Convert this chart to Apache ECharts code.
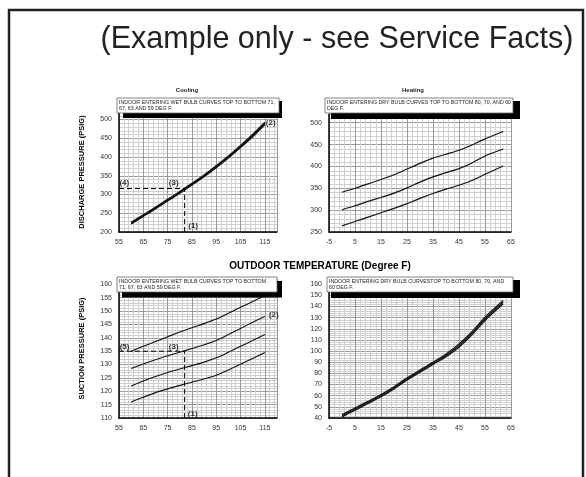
<!DOCTYPE html>
<html>
<head>
<meta charset="utf-8">
<title>Pressure curves</title>
<script src="https://cdn.jsdelivr.net/npm/echarts@6/dist/echarts.min.js"></script>
<style>
  html, body { margin: 0; background: #fff; }
  #chart { width: 586px; height: 477px; }
</style>
</head>
<body>
<div id="chart"></div>
<script>
  // outdoor temperatures (deg F)
  var coolX = [60, 65, 70, 75, 80, 85, 90, 95, 100, 105, 110, 115]
  var heatX = [0, 5, 10, 15, 20, 25, 30, 35, 40, 45, 50, 55, 62]

  // cooling discharge pressure, wet bulb 71 / 67 / 63 / 59
  var dis71 = [226, 246, 266, 287, 308, 330, 352, 377, 403, 431, 461, 493]
  var dis67 = [224.5, 244.5, 264.5, 285.5, 306.5, 328, 350, 375, 401, 429, 458.5, 490.5]
  var dis63 = [223, 243, 263, 284, 305, 326.5, 348.5, 373, 399, 427, 456.5, 488.5]
  var dis59 = [221.5, 241.5, 261.5, 282.5, 303.5, 325, 347, 371, 397, 425, 454, 486]

  // heating discharge pressure, dry bulb 80 / 70 / 60
  var hdis80 = [341, 350, 360, 370, 381, 394, 407, 419, 428, 437, 449, 463, 480]
  var hdis70 = [301, 310, 320, 329, 339, 351, 364, 376, 386, 395, 408, 424, 440]
  var hdis60 = [264, 274, 284, 294, 304, 315, 327, 338, 348, 357, 368, 382, 401]

  // cooling suction pressure, wet bulb 71 / 67 / 63 / 59
  var suc71 = [135, 136.8, 138.6, 140.4, 142.2, 143.8, 145.3, 147, 149.2, 151.4, 153.6, 155.8]
  var suc67 = [128.5, 130.2, 131.8, 133.3, 134.6, 136, 137.4, 139, 141.2, 143.5, 145.8, 148]
  var suc63 = [122, 123.8, 125.5, 127, 128.3, 129.6, 130.9, 132.5, 134.6, 136.8, 139, 141.2]
  var suc59 = [116, 117.8, 119.5, 120.9, 122.2, 123.4, 124.6, 126, 128, 130.1, 132.3, 134.5]

  // heating suction pressure, dry bulb 80 / 70 / 60
  var hsuc80 = [43, 49, 55, 61, 68, 76, 83, 90, 97.5, 106.5, 117.5, 130.5, 145.5]
  var hsuc70 = [42, 48, 54, 60, 67, 75, 82, 89, 96, 105, 116, 129, 144]
  var hsuc60 = [41, 47, 53, 59, 66, 74, 81, 88, 95, 103.5, 114.5, 127.5, 142.5]

  // tick labels
  var coolTicks = [55, 65, 75, 85, 95, 105, 115]
  var heatTicks = [-5, 5, 15, 25, 35, 45, 55, 65]
  var disTicks = [200, 250, 300, 350, 400, 450, 500]
  var hdisTicks = [250, 300, 350, 400, 450, 500]
  var sucTicks = [110, 115, 120, 125, 130, 135, 140, 145, 150, 155, 160]
  var hsucTicks = [40, 50, 60, 70, 80, 90, 100, 110, 120, 130, 140, 150, 160]

  // example operating points: [outdoor temp, pressure]
  var disPoint = [82, 316]
  var sucPoint = [82, 135]

  // callout labels: [text, temp, pressure]
  var disNotes = [['(4)', 57.2, 330], ['(3)', 77.5, 330], ['(1)', 85.5, 217], ['(2)', 117.4, 490]]
  var sucNotes = [['(5)', 57.3, 136.7], ['(3)', 77.5, 136.7], ['(1)', 85.3, 111.5], ['(2)', 118.7, 148.5]]

  var font = 'Liberation Sans, Arial, Helvetica, sans-serif'
  var chart = echarts.init(document.getElementById('chart'))

  function xAx(gi, min, max, ticks) {
    return {
      type: 'value', gridIndex: gi, min: min, max: max, interval: 10,
      axisLine: { show: true, onZero: false, lineStyle: { color: '#000', width: 1.5 } },
      axisTick: { show: false },
      axisLabel: {
        fontSize: 7, color: '#333', margin: 7, fontFamily: font,
        formatter: function (v) { return ticks.indexOf(v) >= 0 ? String(v) : '' }
      },
      splitLine: { show: true, lineStyle: { color: '#999', width: 1 } },
      minorTick: { show: false, splitNumber: 5 },
      minorSplitLine: { show: true, lineStyle: { color: '#cfcfcf', width: 1 } }
    }
  }

  function yAx(gi, min, max, interval, ticks, name) {
    return {
      type: 'value', gridIndex: gi, min: min, max: max, interval: interval,
      name: name, nameLocation: 'middle', nameRotate: 90, nameGap: 33,
      nameTextStyle: { fontSize: 7.5, fontWeight: 'bold', color: '#000', fontFamily: font },
      axisLine: { show: true, onZero: false, lineStyle: { color: '#000', width: 1.5 } },
      axisTick: { show: false },
      axisLabel: {
        fontSize: 7, color: '#333', margin: 7, fontFamily: font,
        formatter: function (v) { return ticks.indexOf(v) >= 0 ? String(v) : '' }
      },
      splitLine: { show: true, lineStyle: { color: '#999', width: 1 } },
      minorTick: { show: false, splitNumber: 5 },
      minorSplitLine: { show: true, lineStyle: { color: '#cfcfcf', width: 1 } }
    }
  }

  function curve(gi, xs, ys, w) {
    return {
      type: 'line', xAxisIndex: gi, yAxisIndex: gi, symbol: 'none', smooth: 0.25,
      lineStyle: { color: '#111', width: w },
      data: xs.map(function (x, i) { return [x, ys[i]] }),
      silent: true, animation: false
    }
  }

  function dashed(gi, pts) {
    return {
      type: 'line', xAxisIndex: gi, yAxisIndex: gi, symbol: 'none',
      lineStyle: { color: '#000', width: 1, type: [5, 3] },
      data: pts, silent: true, animation: false
    }
  }

  function notes(gi, list) {
    return {
      type: 'scatter', xAxisIndex: gi, yAxisIndex: gi, symbolSize: 0,
      label: {
        show: true, position: 'inside', formatter: '{b}',
        fontSize: 8, fontWeight: 'bold', color: '#000', fontFamily: font
      },
      data: list.map(function (n) { return { name: n[0], value: [n[1], n[2]] } }),
      silent: true, animation: false
    }
  }

  function box(x, y, w, h, sx, sy, sw, sh, lines) {
    return [
      { type: 'rect', z: 20, shape: { x: sx, y: sy, width: sw, height: sh }, style: { fill: '#000' } },
      { type: 'rect', z: 21, shape: { x: x, y: y, width: w, height: h }, style: { fill: '#fff', stroke: '#666', lineWidth: 0.8 } },
      { type: 'text', z: 22, x: x + 2, y: y + 2, style: { text: lines, fill: '#222', fontSize: 5.3, lineHeight: 5.8, fontFamily: font } }
    ]
  }

  var graphics = [
    { type: 'rect', z: 30, shape: { x: 9, y: 10, width: 574, height: 500 }, style: { fill: 'none', stroke: '#222', lineWidth: 2.5 } },
    { type: 'text', z: 30, x: 337, y: 40, style: { text: '(Example only - see Service Facts)', fontSize: 30.5, fill: '#222', fontFamily: font, textAlign: 'center', textVerticalAlign: 'middle' } },
    { type: 'text', z: 30, x: 187, y: 90, style: { text: 'Cooling', fontSize: 6, fontWeight: 'bold', fill: '#222', fontFamily: font, textAlign: 'center', textVerticalAlign: 'middle' } },
    { type: 'text', z: 30, x: 413, y: 90, style: { text: 'Heating', fontSize: 6, fontWeight: 'bold', fill: '#222', fontFamily: font, textAlign: 'center', textVerticalAlign: 'middle' } },
    { type: 'text', z: 30, x: 320, y: 266, style: { text: 'OUTDOOR TEMPERATURE (Degree F)', fontSize: 10, fontWeight: 'bold', fill: '#000', fontFamily: font, textAlign: 'center', textVerticalAlign: 'middle' } }
  ]
    .concat(box(117, 98, 162, 15, 123, 101, 159, 17, 'INDOOR ENTERING WET BULB CURVES TOP TO BOTTOM 71,\n67, 63 AND 59 DEG F.'))
    .concat(box(325, 98, 188, 15, 331, 101, 189, 18, 'INDOOR ENTERING DRY BULB CURVES TOP TO BOTTOM 80, 70, AND 60\nDEG F.'))
    .concat(box(117, 277, 160, 15, 122, 281, 160, 16.5, 'INDOOR ENTERING WET BULB CURVES TOP TO BOTTOM\n71, 67, 63 AND 59 DEG F.'))
    .concat(box(327, 277, 186, 15, 331, 280, 189, 18, 'INDOOR ENTERING DRY BULB CURVESTOP TO BOTTOM 80, 70, AND\n60 DEG F.'))

  chart.setOption({
    animation: false,
    grid: [
      { left: 119, top: 112, width: 158, height: 120 },
      { left: 329, top: 114, width: 182, height: 118 },
      { left: 119, top: 279, width: 158, height: 139 },
      { left: 329, top: 282, width: 182, height: 136 }
    ],
    xAxis: [
      xAx(0, 55, 120, coolTicks),
      xAx(1, -5, 65, heatTicks),
      xAx(2, 55, 120, coolTicks),
      xAx(3, -5, 65, heatTicks)
    ],
    yAxis: [
      yAx(0, 200, 520, 50, disTicks, 'DISCHARGE PRESSURE (PSIG)'),
      yAx(1, 250, 520, 50, hdisTicks, ''),
      yAx(2, 110, 162, 5, sucTicks, 'SUCTION PRESSURE (PSIG)'),
      yAx(3, 40, 162, 10, hsucTicks, '')
    ],
    graphic: graphics,
    series: [
      curve(0, coolX, dis71, 1.2), curve(0, coolX, dis67, 1.2), curve(0, coolX, dis63, 1.2), curve(0, coolX, dis59, 1.2),
      dashed(0, [[55, disPoint[1]], disPoint]),
      dashed(0, [[disPoint[0], 200], disPoint]),
      notes(0, disNotes),
      curve(1, heatX, hdis80, 1.2), curve(1, heatX, hdis70, 1.2), curve(1, heatX, hdis60, 1.2),
      curve(2, coolX, suc71, 1.1), curve(2, coolX, suc67, 1.1), curve(2, coolX, suc63, 1.1), curve(2, coolX, suc59, 1.1),
      dashed(2, [[55, sucPoint[1]], sucPoint]),
      dashed(2, [[sucPoint[0], 110], sucPoint]),
      notes(2, sucNotes),
      curve(3, heatX, hsuc80, 1.2), curve(3, heatX, hsuc70, 1.2), curve(3, heatX, hsuc60, 1.2)
    ]
  })
</script>
</body>
</html>
